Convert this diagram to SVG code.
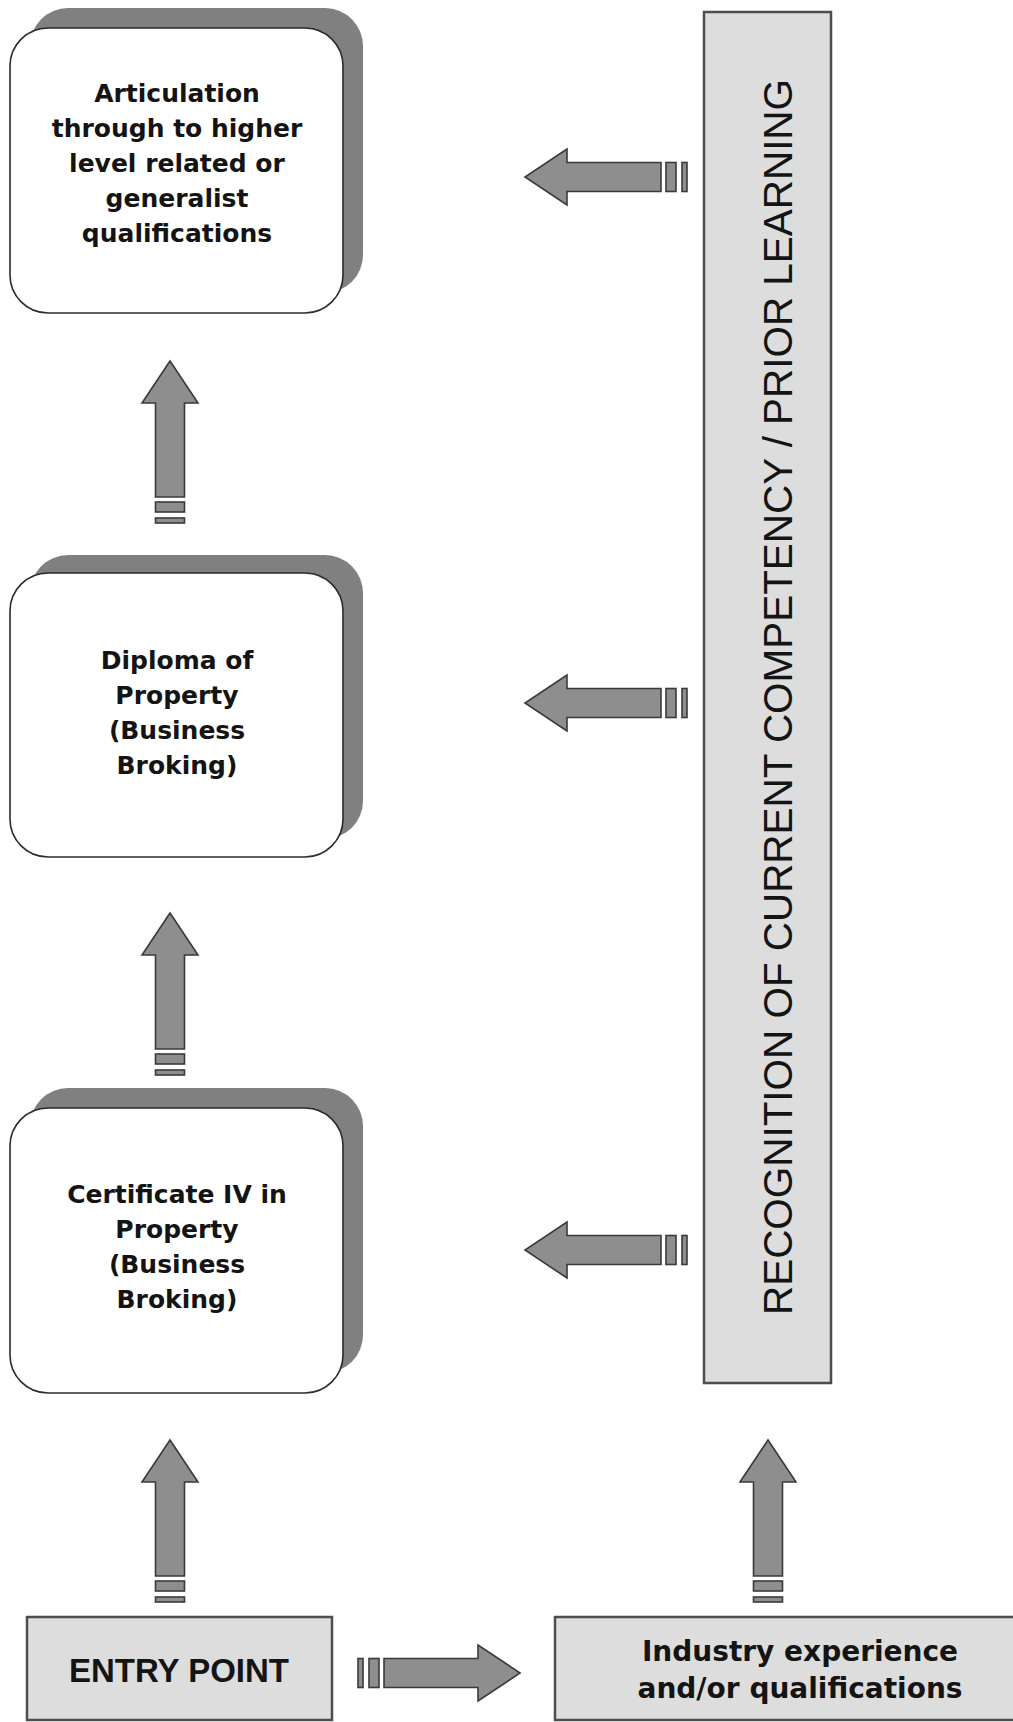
<svg xmlns="http://www.w3.org/2000/svg" width="1013" height="1722" viewBox="0 0 1013 1722">
<style>
.bg{fill:#ffffff}
.shadow{fill:#808080}
.card{fill:#ffffff;stroke:#2a2a2a;stroke-width:1.6}
.panel{fill:#dddddd;stroke:#4d4d4d;stroke-width:2.5}
.arw{fill:#8e8e8e;stroke:#3a3a3a;stroke-width:1.6;stroke-linejoin:miter}
.t{font-family:"DejaVu Sans",sans-serif;font-weight:bold;font-size:25px;fill:#141414;text-anchor:middle}
.ti{font-family:"DejaVu Sans",sans-serif;font-weight:bold;font-size:28px;fill:#141414;text-anchor:middle}
.te{font-family:"Liberation Sans",Arial,sans-serif;font-weight:bold;font-size:33px;fill:#141414;text-anchor:middle}
.tv{font-family:"Liberation Sans",Arial,sans-serif;font-size:41px;fill:#141414;text-anchor:middle}
</style>
<defs>
<g id="sarrow">
<rect class="arw" x="0" y="-14.5" width="5" height="29"/>
<rect class="arw" x="11" y="-14.5" width="10" height="29"/>
<polygon class="arw" points="26,-14.5 120,-14.5 120,-28 162,0 120,28 120,14.5 26,14.5"/>
</g>
</defs>
<rect class="bg" x="0" y="0" width="1013" height="1722"/>

<g id="node-articulation">
<rect class="shadow" x="30" y="8" width="333" height="285" rx="38" ry="38"/>
<rect class="card" x="10" y="28" width="333" height="285" rx="38" ry="38"/>
<text class="t" x="177" y="102">Articulation</text>
<text class="t" x="177" y="137">through to higher</text>
<text class="t" x="177" y="172">level related or</text>
<text class="t" x="177" y="207">generalist</text>
<text class="t" x="177" y="242">qualifications</text>
</g>

<g id="node-diploma">
<rect class="shadow" x="30" y="555" width="333" height="284" rx="38" ry="38"/>
<rect class="card" x="10" y="573" width="333" height="284" rx="38" ry="38"/>
<text class="t" x="177" y="669">Diploma of</text>
<text class="t" x="177" y="704">Property</text>
<text class="t" x="177" y="739">(Business</text>
<text class="t" x="177" y="774">Broking)</text>
</g>

<g id="node-certificate">
<rect class="shadow" x="30" y="1088" width="333" height="285" rx="38" ry="38"/>
<rect class="card" x="10" y="1108" width="333" height="285" rx="38" ry="38"/>
<text class="t" x="177" y="1203">Certificate IV in</text>
<text class="t" x="177" y="1238">Property</text>
<text class="t" x="177" y="1273">(Business</text>
<text class="t" x="177" y="1308">Broking)</text>
</g>

<g id="node-rcc">
<rect class="panel" x="704" y="12" width="127" height="1371"/>
<text class="tv" transform="translate(792,697) rotate(-90)" textLength="1236" lengthAdjust="spacingAndGlyphs">RECOGNITION OF CURRENT COMPETENCY / PRIOR LEARNING</text>
</g>

<g id="node-entry">
<rect class="panel" x="27" y="1617" width="305" height="103"/>
<text class="te" x="179" y="1682">ENTRY POINT</text>
</g>

<g id="node-industry">
<rect class="panel" x="555" y="1617" width="470" height="103"/>
<text class="ti" x="800" y="1661">Industry experience</text>
<text class="ti" x="800" y="1698">and/or qualifications</text>
</g>

<g id="connectors">
<use href="#sarrow" transform="translate(170,523) rotate(-90)"/>
<use href="#sarrow" transform="translate(170,1075) rotate(-90)"/>
<use href="#sarrow" transform="translate(170,1602) rotate(-90)"/>
<use href="#sarrow" transform="translate(768,1602) rotate(-90)"/>
<use href="#sarrow" transform="translate(358,1673)"/>
<use href="#sarrow" transform="translate(687,177) rotate(180)"/>
<use href="#sarrow" transform="translate(687,703) rotate(180)"/>
<use href="#sarrow" transform="translate(687,1250) rotate(180)"/>
</g>
</svg>
